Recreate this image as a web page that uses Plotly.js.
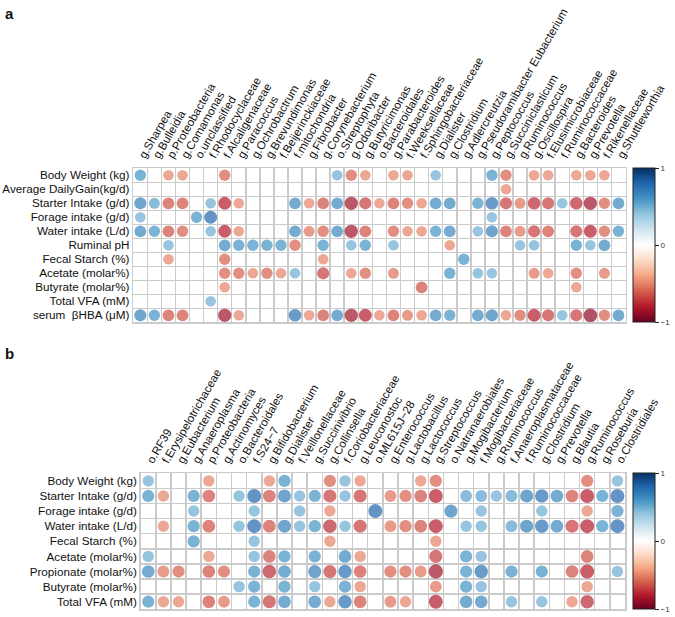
<!DOCTYPE html>
<html>
<head>
<meta charset="utf-8">
<script src="https://cdn.plot.ly/plotly-3.0.1.min.js"></script>
<style>html,body{margin:0;padding:0;background:#fff}#chart{width:675px;height:617px}</style>
</head>
<body>
<div id="chart"></div>
<script>
// Correlation dot matrices (corrplot style): host traits vs. bacterial taxa
const _ = null;   // not significant -> blank cell

const aTaxa = ['g.Sharpea', 'g.Bulleidia', 'p.Proteobacteria', 'g.Comamonas', 'o.unclassified',
  'f.Rhodocyclaceae', 'f.Alcaligenaceae', 'g.Paracoccus', 'g.Ochrobactrum', 'g.Brevundimonas',
  'f.Beijerinckiaceae', 'f.mitochondria', 'g.Fibrobacter', 'g.Corynebacterium', 'o.Streptophyta',
  'g.Odoribacter', 'g.Butyricimonas', 'o.Bacteroidales', 'g.Parabacteroides', 'f.Weeksellaceae',
  'f.Sphingobacteriaceae', 'g.Dialister', 'g.Clostridium', 'g.Adlercreutzia', 'g.Pseudoramibacter Eubacterium',
  'g.Peptococcus', 'g.Succiniclasticum', 'g.Ruminococcus', 'g.Oscillospira', 'f.Elusimicrobiaceae',
  'f.Ruminococcaceae', 'g.Bacteroides', 'g.Prevotella', 'f.Rikenellaceae', 'g.Shuttleworthia'];
const aTraits = ['Body Weight (kg)', 'Average DailyGain(kg/d)', 'Starter Intake (g/d)', 'Forage intake (g/d)',
  'Water intake (L/d)', 'Ruminal pH', 'Fecal Starch (%)', 'Acetate (molar%)', 'Butyrate (molar%)',
  'Total VFA (mM)', 'serum  βHBA (μM)'];
const aCorr = [
  [.6,_,-.5,-.5,_, _,-.6,_,_,_, _,_,_,_,.5, -.6,-.5,_,-.5,-.5, _,.5,_,_,_, .6,-.6,_,-.5,-.5, _,-.5,-.5,-.5,_],
  [_,_,_,_,_, _,_,_,_,_, _,_,_,_,_, _,_,_,_,_, _,_,_,_,_, _,-.5,_,_,_, _,_,_,_,_],
  [.7,.55,-.65,-.65,_, .5,-.8,-.5,_,_, _,.65,-.5,-.65,.65, -.85,-.7,-.5,-.65,-.6, -.5,.65,.65,_,.6, .75,-.7,-.55,-.75,-.7, .5,-.75,-.85,-.6,.65],
  [.5,_,_,_,.6, .8,_,_,_,_, _,_,_,_,_, _,_,_,_,_, _,_,_,_,_, .5,_,_,_,_, _,_,_,_,_],
  [.65,.6,-.65,-.6,_, .5,-.8,-.5,_,_, _,.65,-.55,-.6,.65, -.85,-.65,_,-.6,-.5, -.5,.6,.65,_,.5, .7,-.65,-.55,-.7,-.65, _,-.7,-.8,-.6,.6],
  [_,_,.5,_,_, _,.65,.6,.6,.6, .6,-.6,_,.6,_, .5,.6,_,.5,_, _,_,-.5,_,_, _,_,.5,.5,_, _,.6,.5,.65,_],
  [_,_,-.5,_,_, _,-.6,_,_,_, _,_,_,-.5,_, _,_,_,_,_, _,_,_,.6,_, _,_,_,_,_, _,_,_,_,_],
  [_,_,_,_,_, _,-.6,-.6,-.5,-.6, -.5,.5,_,-.7,_, -.5,-.6,_,-.55,_, _,_,.6,_,.5, .5,_,_,-.55,-.5, _,-.6,_,-.55,_],
  [_,_,_,_,_, _,-.5,_,_,_, _,_,_,_,_, _,_,_,_,_, -.65,_,_,_,_, _,_,_,_,_, _,-.5,_,_,_],
  [_,_,_,_,_, .5,_,_,_,_, _,_,_,_,_, _,_,_,_,_, _,_,_,_,_, _,_,_,_,_, _,_,_,_,_],
  [.7,.6,-.65,-.65,_, _,-.85,-.5,_,_, _,.75,-.5,-.65,.65, -.85,-.8,-.5,-.65,-.55, -.5,.65,.6,_,.65, .7,-.5,-.6,-.8,-.7, .5,-.7,-.9,-.6,.65],
];

const bTaxa = ['o.RF39', 'f.Erysipelotrichaceae', 'g.Eubacterium', 'g.Anaeroplasma', 'p.Proteobacteria',
  'g.Actinomyces', 'o.Bacteroidales', 'f.S24\u22127', 'g.Bifidobacterium', 'g.Dialister',
  'f.Veillonellaceae', 'g.Succinivibrio', 'g.Collinsella', 'f.Coriobacteriaceae', 'g.Leuconostoc',
  'o.ML615J\u221228', 'g.Enterococcus', 'g.Lactobacillus', 'g.Lactococcus', 'g.Streptococcus',
  'o.Natranaerobiales', 'g.Mogibacterium', 'f.Mogibacteriaceae', 'g.Ruminococcus', 'f.Anaeroplasmataceae',
  'f.Ruminococcaceae', 'g.Clostridium', 'g.Prevotella', 'g.Blautia', 'g.Ruminococcus ',
  'g.Roseburia', 'o.Clostridiales'];
const bTraits = ['Body Weight (kg)', 'Starter Intake (g/d)', 'Forage intake (g/d)', 'Water intake (L/d)',
  'Fecal Starch (%)', 'Acetate (molar%)', 'Propionate (molar%)', 'Butyrate (molar%)', 'Total VFA (mM)'];
const bCorr = [
  [.5,_,_,_,-.5, _,_,_,-.5,.6, _,_,-.6,.5,-.5, _,_,_,-.5,-.6, _,_,_,_,_, _,_,_,_,-.6, _,.5],
  [.6,-.5,_,.6,-.65, _,.5,.8,-.65,.7, .5,.6,-.7,.5,-.7, _,-.55,-.6,-.65,-.8, _,.55,.55,.5,.55, .7,.75,.65,-.65,-.8, .6,.8],
  [_,_,_,.5,_, _,_,.5,_,_, .5,_,-.5,_,_, .8,_,_,_,_, .7,_,.5,_,_, _,.5,_,_,-.5, _,.6],
  [_,-.5,_,.6,-.65, _,.5,.8,-.65,.7, .5,.6,-.75,.5,-.7, _,-.55,-.6,-.65,-.8, _,.5,.5,_,.55, .7,.75,.65,-.7,-.8, .6,.8],
  [_,_,_,.6,_, _,_,.5,_,_, _,_,-.5,_,_, _,_,_,_,-.5, _,_,_,_,_, _,_,_,_,_, _,_],
  [.5,_,_,_,-.5, _,_,.5,-.65,.6, _,.6,_,.65,-.5, _,_,_,_,-.7, _,.6,.5,_,_, _,_,_,_,-.65, _,_],
  [.65,-.55,-.6,_,-.65, -.6,_,.6,-.75,.65, _,.7,-.7,.75,-.65, _,-.6,-.6,-.55,-.85, _,.6,.75,_,.6, _,.6,_,-.65,-.8, _,.5],
  [_,_,_,_,_, _,.5,.6,_,.6, _,.5,_,.6,-.5, _,_,_,_,-.55, _,.6,.5,_,_, _,_,_,_,-.5, _,_],
  [.6,-.5,-.5,_,-.65, -.55,_,.6,-.7,.65, _,.65,-.5,.75,-.65, _,-.55,-.5,_,-.8, _,.65,.65,_,.5, _,.5,_,-.5,-.75, _,_],
];

const W = 675, H = 617;
const RDBU = ['#67001F', '#B2182B', '#D6604D', '#F4A582', '#FDDBC7', '#FFFFFF',
  '#D1E5F0', '#92C5DE', '#4393C3', '#2166AC', '#053061'];
const colorscale = RDBU.map((c, i) => [i / (RDBU.length - 1), c]);
const GRID = '#cbcbcb';
const FONT = 'Liberation Sans, Arial, Helvetica, sans-serif';

// pixel boxes of the two grids -> paper fractions (margins are zero)
const boxA = { x0: 133.3, x1: 625.5, y0: 168.3, y1: 322.3 };
const boxB = { x0: 140.7, x1: 625.0, y0: 473.3, y1: 609.3 };
const dom = b => ({ x: [b.x0 / W, b.x1 / W], y: [1 - b.y1 / H, 1 - b.y0 / H] });

function dots(corr, box, xa, ya, cax) {
  const cell = (box.x1 - box.x0) / corr[0].length;
  const x = [], y = [], v = [];
  corr.forEach((row, r) => row.forEach((val, c) => {
    if (val === null) return;
    x.push(c); y.push(r); v.push(val);
  }));
  return {
    type: 'scatter', mode: 'markers', x, y, xaxis: xa, yaxis: ya, hoverinfo: 'skip',
    marker: { color: v, coloraxis: cax, size: v.map(d => cell * (0.48 + 0.55 * Math.abs(d))), line: { width: 0 } },
  };
}

function xAxis(labels, box, anchor) {
  return {
    domain: dom(box).x, anchor, side: 'top', range: [-0.5, labels.length - 0.5],
    tickmode: 'array', tickvals: labels.map((_, i) => i), ticktext: labels, tickangle: -60,
    tickfont: { size: 11.5, color: '#111' }, ticks: '', showgrid: false, zeroline: false,
    minor: { tickmode: 'linear', tick0: 0.5, dtick: 1, showgrid: true, gridcolor: GRID, gridwidth: 1.5, ticks: '' },
    showline: true, mirror: true, linecolor: GRID, linewidth: 1.5, fixedrange: true,
  };
}
function yAxis(labels, box, anchor) {
  return {
    domain: dom(box).y, anchor, range: [labels.length - 0.5, -0.5],
    tickmode: 'array', tickvals: labels.map((_, i) => i), ticktext: labels,
    tickfont: { size: 11.7, color: '#111' }, ticks: '', showgrid: false, zeroline: false,
    minor: { tickmode: 'linear', tick0: 0.5, dtick: 1, showgrid: true, gridcolor: GRID, gridwidth: 1.5, ticks: '' },
    showline: true, mirror: true, linecolor: GRID, linewidth: 1.5, fixedrange: true,
  };
}
function cbar(box) {
  return {
    cmin: -1, cmax: 1, colorscale,
    colorbar: {
      x: 633 / W, xanchor: 'left', xpad: 0, ypad: 0,
      y: 1 - (box.y0 + box.y1) / 2 / H, yanchor: 'middle',
      len: box.y1 - box.y0, lenmode: 'pixels', thickness: 22, thicknessmode: 'pixels',
      outlinewidth: 1, outlinecolor: '#222',
      tickmode: 'array', tickvals: [-1, 0, 1], ticktext: ['\u22121', '0', '1'],
      ticks: 'outside', ticklen: 4, tickcolor: '#222', tickfont: { size: 8, color: '#333' },
    },
  };
}

const data = [
  dots(aCorr, boxA, 'x', 'y', 'coloraxis'),
  dots(bCorr, boxB, 'x2', 'y2', 'coloraxis2'),
];

const layout = {
  width: W, height: H, margin: { l: 0, r: 0, t: 0, b: 0 },
  paper_bgcolor: '#fff', plot_bgcolor: '#fff', showlegend: false,
  font: { family: FONT, color: '#111' },
  xaxis: xAxis(aTaxa, boxA, 'y'), yaxis: yAxis(aTraits, boxA, 'x'),
  xaxis2: xAxis(bTaxa, boxB, 'y2'), yaxis2: yAxis(bTraits, boxB, 'x2'),
  coloraxis: cbar(boxA), coloraxis2: cbar(boxB),
  annotations: [
    { text: '<b>a</b>', x: 3 / W, y: 1 - 3 / H, xref: 'paper', yref: 'paper', xanchor: 'left', yanchor: 'top', showarrow: false, font: { size: 15 } },
    { text: '<b>b</b>', x: 3 / W, y: 1 - 343 / H, xref: 'paper', yref: 'paper', xanchor: 'left', yanchor: 'top', showarrow: false, font: { size: 15 } },
  ],
};

Plotly.newPlot('chart', data, layout, { staticPlot: true, displayModeBar: false });
</script>
</body>
</html>
